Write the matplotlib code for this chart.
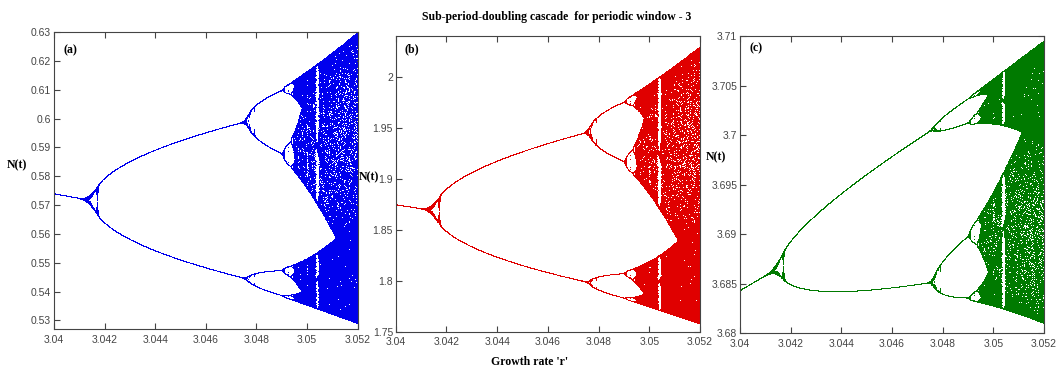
import numpy as np
import matplotlib
matplotlib.use("Agg")
import matplotlib.pyplot as plt

# ---- data / model parameters -------------------------------------------
r_min, r_max = 3.04, 3.052          # growth rate range (x axis)
n_r = 2400                          # number of growth-rate samples
model_offset = 0.8                  # N(t+1) = N(t) * (r + 0.8 - N(t))
N0 = 0.5                            # initial population
n_transient = 300                   # discarded iterations
n_keep = 380                        # plotted iterations

x_ticks = [3.04, 3.042, 3.044, 3.046, 3.048, 3.05, 3.052]
x_ticklabels = ["3.04", "3.042", "3.044", "3.046", "3.048", "3.05", "3.052"]

panel_labels = ["(a)", "(b)", "(c)"]
panel_ylims = [(0.527, 0.63), (1.75, 2.04), (3.68, 3.71)]
panel_yticks = [
    [0.53, 0.54, 0.55, 0.56, 0.57, 0.58, 0.59, 0.6, 0.61, 0.62, 0.63],
    [1.75, 1.8, 1.85, 1.9, 1.95, 2.0],
    [3.68, 3.685, 3.69, 3.695, 3.7, 3.705, 3.71],
]
panel_yticklabels = [
    ["0.53", "0.54", "0.55", "0.56", "0.57", "0.58", "0.59", "0.6", "0.61", "0.62", "0.63"],
    ["1.75", "1.8", "1.85", "1.9", "1.95", "2"],
    ["3.68", "3.685", "3.69", "3.695", "3.7", "3.705", "3.71"],
]
panel_colors = ["#0000ee", "#e00000", "#007a00"]

title_text = "Sub-period-doubling cascade  for periodic window - 3"
xlabel_text = "Growth rate 'r'"
ylabel_text = "N(t)"

# ---- iterate the map -----------------------------------------------------
r = np.linspace(r_min, r_max, n_r)
N = np.full(n_r, N0)
for _ in range(n_transient):
    N = N * (r + model_offset - N)
R_pts, N_pts = [], []
for _ in range(n_keep):
    N = N * (r + model_offset - N)
    R_pts.append(r.copy())
    N_pts.append(N.copy())
R_pts = np.concatenate(R_pts)
N_pts = np.concatenate(N_pts)

# ---- figure --------------------------------------------------------------
fig = plt.figure(figsize=(10.59, 3.74), dpi=100)
positions = [
    [0.0510, 0.1203, 0.2868, 0.7941],
    [0.3737, 0.1131, 0.2873, 0.7906],
    [0.6988, 0.1088, 0.2871, 0.7950],
]
ylabel_pos = [(17, 165), (369, 177), (716, 157)]  # pixel coords (from top)
label_y = [0.94, 0.955, 0.96]

tick_font = dict(family="Liberation Sans", size=7.5)
for i in range(3):
    ax = fig.add_axes(positions[i])
    lo, hi = panel_ylims[i]
    m = (N_pts >= lo - 0.01) & (N_pts <= hi + 0.01)
    ax.plot(R_pts[m], N_pts[m], linestyle="none", marker=",",
            color=panel_colors[i], rasterized=True)
    ax.set_xlim(r_min, r_max)
    ax.set_ylim(lo, hi)
    ax.set_xticks(x_ticks)
    ax.set_xticklabels(x_ticklabels, fontdict=tick_font, color="#444444")
    ax.set_yticks(panel_yticks[i])
    ax.set_yticklabels(panel_yticklabels[i], fontdict=tick_font, color="#444444")
    ax.tick_params(direction="in", length=4, width=0.8, top=True, right=True,
                   color="#444444", pad=2)
    ax.tick_params(axis="x", pad=4)
    for sp in ax.spines.values():
        sp.set_color("#444444")
        sp.set_linewidth(0.8)
    ax.text(0.03, label_y[i], panel_labels[i], transform=ax.transAxes,
            family="Liberation Serif", weight="bold", fontsize=8.5,
            va="center", ha="left")
    px, py = ylabel_pos[i]
    fig.text(px / 1059, 1 - py / 374, ylabel_text, family="Liberation Serif",
             weight="bold", fontsize=8.5, ha="center", va="center")

fig.text(556.7 / 1059, 1 - 17 / 374, title_text, family="Liberation Serif",
         weight="bold", fontsize=8.5, ha="center", va="center")
fig.text(530 / 1059, 1 - 362 / 374, xlabel_text, family="Liberation Serif",
         weight="bold", fontsize=8.5, ha="center", va="center")

fig.savefig("out.png", dpi=100)
